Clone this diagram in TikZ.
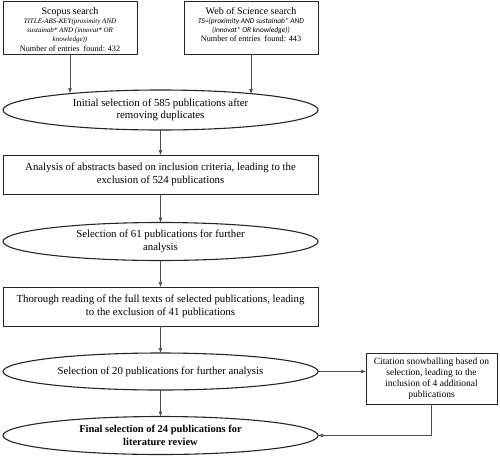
\documentclass[tikz,border=0pt]{standalone}
\usepackage{fontspec}
\setmainfont{Liberation Serif}
\newfontfamily\calib{Carlito}
\usetikzlibrary{shapes.geometric,arrows.meta}
\begin{document}
\begin{tikzpicture}[x=1pt,y=-1pt,
  every node/.style={inner sep=0pt, outer sep=0pt},
  srcbox/.style={draw=black!85, line width=0.9pt, rectangle, minimum width=134pt, minimum height=53pt},
  stepbox/.style={draw=black!85, line width=0.9pt, rectangle, minimum width=315pt, align=center,
     font=\fontsize{10.8}{12.5}\selectfont},
  stepell/.style={draw=black!85, line width=1.1pt, ellipse, minimum width=315pt, align=center,
     font=\fontsize{10.8}{12.5}\selectfont},
  conn/.style={draw=black!70, line width=0.6pt, -{Latex[length=5pt,width=4pt]}}
]
\useasboundingbox (0,0) rectangle (500,456);

% source boxes
\node[srcbox] (scopus) at (70,27.5) {};
\node[anchor=north, align=center, font=\fontsize{7}{9}\selectfont] (scopustxt) at (70,7.3)
  {{\fontsize{10}{9}\selectfont Scopus search}\\
   \textit{TITLE-ABS-KEY(proximity AND}\\
   \textit{sustainab* AND (innovat* OR}\\
   \textit{knowledge))}\\[1.5pt]
   {\fontsize{8.2}{9}\selectfont Number of entries\ \ found: 432}};

\node[srcbox] (wos) at (251,27.5) {};
\node[anchor=north, align=center, font=\fontsize{7}{9}\selectfont] (wostxt) at (251,7.3)
  {{\fontsize{10}{9}\selectfont Web of Science search}\\
   {\calib\itshape\fontsize{7.4}{9}\selectfont TS=(proximity AND sustainab* AND}\\
   {\calib\itshape\fontsize{7.4}{9}\selectfont (innovat* OR knowledge))}\\[0.5pt]
   {\fontsize{8.2}{9}\selectfont Number of entries\ \ found: 443}};

% flow
\node[stepell, minimum height=40pt] (e1) at (160.5,110)
  {Initial selection of 585 publications after\\removing duplicates};
\node[stepbox, minimum height=39pt] (b2) at (160.5,174.5)
  {Analysis of abstracts based on inclusion criteria, leading to the\\exclusion of 524 publications};
\node[stepell, minimum height=38pt] (e2) at (160.5,241.5)
  {Selection of 61 publications for further\\analysis};
\node[stepbox, minimum height=39pt] (b3) at (160.5,306.5)
  {Thorough reading of the full texts of selected publications, leading\\to the exclusion of 41 publications};
\node[stepell, minimum height=37pt] (e3) at (160.5,371.5)
  {Selection of 20 publications for further analysis};
\node[stepell, minimum height=38pt, font=\bfseries\fontsize{10.5}{12.5}\selectfont] (e4) at (160.5,435.5)
  {Final selection of 24 publications for\\literature review};
\node[draw=black!85, line width=0.9pt, rectangle, minimum width=131pt, minimum height=51pt,
      align=center, font=\fontsize{9.5}{11}\selectfont] (snow) at (431.5,378.5)
  {Citation snowballing based on\\selection, leading to the\\inclusion of 4 additional\\publications};

% connectors
\draw[conn] (scopus.south) -- (scopus.south |- e1.169.6);
\draw[conn] (wos.south) -- (wos.south |- e1.10.1);
\draw[conn] (e1.south) -- (b2.north);
\draw[conn] (b2.south) -- (e2.north);
\draw[conn] (e2.south) -- (b3.north);
\draw[conn] (b3.south) -- (e3.north);
\draw[conn] (e3.south) -- (e4.north);
\draw[conn] (e3.east) -- (e3.east -| snow.west);
\draw[conn] (snow.south) |- (e4.east);
\end{tikzpicture}
\end{document}
